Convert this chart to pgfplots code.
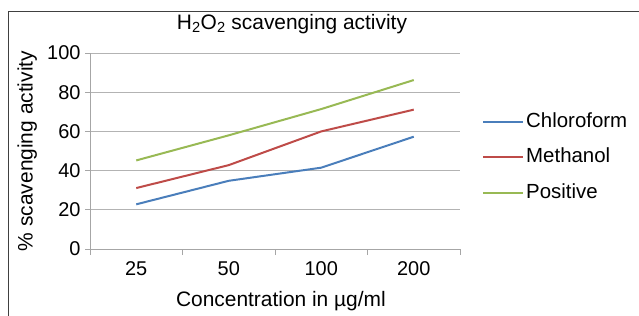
\documentclass[border=0pt]{standalone}
\usepackage{pgfplots}
\pgfplotsset{compat=1.18}
\usepackage{fontspec}
\setmainfont{Liberation Sans}
\definecolor{cblue}{HTML}{4A7EBB}
\definecolor{cred}{HTML}{BE4B48}
\definecolor{cgreen}{HTML}{98B954}
\definecolor{axgray}{HTML}{A6A6A6}
\definecolor{gridgray}{HTML}{B3B3B3}
\newcommand{\fbig}{\fontsize{21}{24}\selectfont}
\newcommand{\ftick}{\fontsize{20}{23}\selectfont}
\begin{document}
\begin{tikzpicture}[x=1bp,y=1bp]
\useasboundingbox (0,0) rectangle (639,-315);
\draw[color=black!75, line width=1bp] (8,-316) -- (8,-11) -- (640,-11);
\begin{axis}[
  at={(90bp,-249bp)}, anchor=south west,
  scale only axis, width=370bp, height=196bp,
  xmin=-0.5, xmax=3.5, ymin=0, ymax=100,
  axis x line=bottom, axis y line=left,
  axis line style={draw=axgray, line width=1bp, -},
  xtick={0,1,2,3}, xticklabels={25,50,100,200},
  minor xtick={-0.5,0.5,1.5,2.5,3.5},
  ytick={0,20,40,60,80,100},
  tick align=outside,
  major tick length=5bp, minor tick length=6bp,
  x tick style={draw=none},
  minor x tick style={draw=axgray, line width=1bp},
  y tick style={draw=axgray, line width=1bp},
  ymajorgrids, grid style={draw=gridgray, line width=1bp},
  /pgf/number format/assume math mode=true,
  ticklabel style={font=\ftick},
  xticklabel style={yshift=-4bp},
  yticklabel style={xshift=-1bp},
  title={H\textsubscript{2}O\textsubscript{2} scavenging activity},
  title style={font=\fbig, at={(rel axis cs:0.546,1)}, anchor=center, yshift=23bp},
  xlabel={Concentration in µg/ml},
  xlabel style={font=\fbig, at={(axis description cs:0.516,0)}, anchor=center, yshift=-52bp},
  ylabel={\% scavenging activity},
  ylabel style={font=\fbig, at={(axis description cs:-0.17,0.5)}, anchor=center},
  legend style={draw=none, fill=none, at={(1.0595,0.469)}, anchor=west,
    inner sep=0pt, row sep=12.5bp, font=\fontsize{20.5}{23}\selectfont,
    nodes={inner sep=2bp, text height=15bp, text depth=4bp}},
  legend cell align=left,
  legend image code/.code={\draw[#1, line width=2bp] (0bp,0bp) -- (40bp,0bp);},
]
\addplot[color=cblue, line width=2bp] coordinates {(0,22.8) (1,34.8) (2,41.5) (3,57.3)};
\addlegendentry{Chloroform}
\addplot[color=cred, line width=2bp] coordinates {(0,31.1) (1,42.8) (2,60.0) (3,71.1)};
\addlegendentry{Methanol}
\addplot[color=cgreen, line width=2bp] coordinates {(0,45.2) (1,58.0) (2,71.4) (3,86.2)};
\addlegendentry{Positive}
\end{axis}
\end{tikzpicture}
\end{document}
